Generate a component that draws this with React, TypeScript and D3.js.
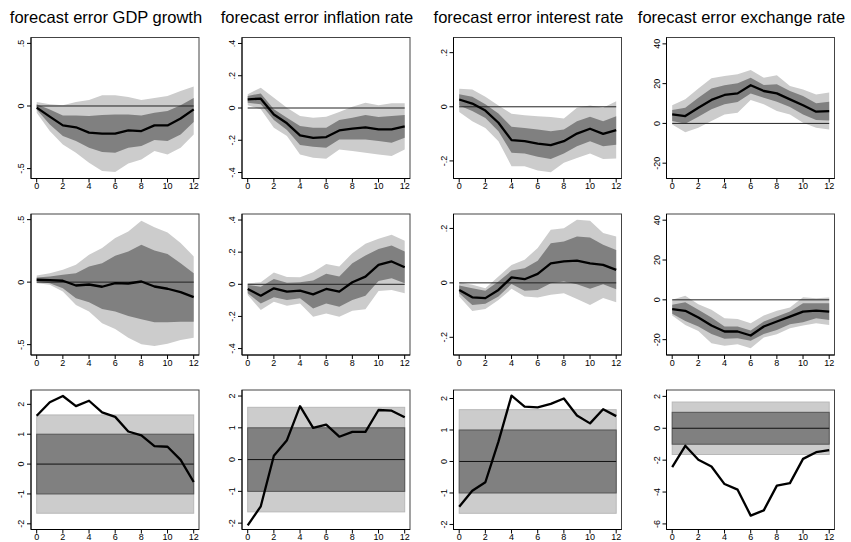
import React from "react";
import * as d3 from "d3";

// ---------- data ----------
const titles = [
  "forecast error GDP growth",
  "forecast error inflation rate",
  "forecast error interest rate",
  "forecast error exchange rate",
];
const horizons = [0, 1, 2, 3, 4, 5, 6, 7, 8, 9, 10, 11, 12];
const xTicks = [0, 2, 4, 6, 8, 10, 12];

// row 1
const r1GdpMid = [-0.013, -0.085, -0.155, -0.17, -0.213, -0.22, -0.22, -0.195, -0.2, -0.155, -0.155, -0.1, -0.027];
const r1GdpHi68 = [0.013, -0.027, -0.075, -0.075, -0.08, -0.072, -0.067, -0.067, -0.075, -0.053, -0.04, 0.005, 0.064];
const r1GdpLo68 = [-0.027, -0.147, -0.24, -0.28, -0.333, -0.368, -0.373, -0.333, -0.32, -0.272, -0.28, -0.227, -0.128];
const r1GdpHi90 = [0.032, 0.013, 0.005, 0.032, 0.048, 0.085, 0.085, 0.072, 0.048, 0.064, 0.08, 0.12, 0.155];
const r1GdpLo90 = [-0.053, -0.2, -0.307, -0.373, -0.453, -0.52, -0.528, -0.459, -0.427, -0.36, -0.387, -0.333, -0.227];

const r1InfMid = [0.054, 0.058, -0.04, -0.095, -0.17, -0.185, -0.18, -0.139, -0.128, -0.12, -0.133, -0.133, -0.114];
const r1InfHi68 = [0.075, 0.09, -0.008, -0.06, -0.112, -0.122, -0.122, -0.075, -0.06, -0.044, -0.056, -0.05, -0.044];
const r1InfLo68 = [0.033, 0.023, -0.075, -0.137, -0.23, -0.24, -0.247, -0.195, -0.195, -0.195, -0.205, -0.216, -0.184];
const r1InfHi90 = [0.085, 0.126, 0.064, 0.002, -0.05, -0.06, -0.054, -0.025, 0.008, 0.033, 0.017, 0.029, 0.029];
const r1InfLo90 = [0.017, -0.008, -0.122, -0.174, -0.288, -0.309, -0.315, -0.257, -0.267, -0.278, -0.288, -0.298, -0.257];

const r1IntMid = [0.027, 0.012, -0.014, -0.059, -0.123, -0.127, -0.136, -0.142, -0.127, -0.099, -0.081, -0.1, -0.086];
const r1IntHi68 = [0.046, 0.037, 0.009, -0.025, -0.074, -0.078, -0.084, -0.09, -0.084, -0.053, -0.037, -0.053, -0.035];
const r1IntLo68 = [0.005, -0.016, -0.041, -0.09, -0.17, -0.173, -0.185, -0.193, -0.173, -0.146, -0.127, -0.146, -0.14];
const r1IntHi90 = [0.067, 0.064, 0.037, 0.005, -0.026, -0.031, -0.035, -0.038, -0.043, -0.004, 0.005, -0.004, 0.02];
const r1IntLo90 = [-0.019, -0.053, -0.078, -0.127, -0.22, -0.22, -0.235, -0.242, -0.207, -0.189, -0.173, -0.193, -0.191];

const r1ExMid = [4.5, 3.7, 7.9, 11.8, 14.3, 15.1, 19.2, 16.3, 15.1, 12.1, 9.1, 5.9, 6.2];
const r1ExHi68 = [6.7, 7.9, 12.9, 17.5, 19.2, 20.2, 23, 19.3, 19.7, 16.3, 13.8, 10.1, 10.9];
const r1ExLo68 = [1.2, -0.2, 3.4, 7.1, 9.6, 10.8, 15.1, 12.9, 10.9, 8.2, 4.5, 1.7, 1.5];
const r1ExHi90 = [9.1, 12.1, 17.5, 22.7, 23.9, 24.7, 26.9, 23, 24.2, 18.8, 17.1, 14.6, 15.5];
const r1ExLo90 = [-0.5, -4.4, -2.2, 1.2, 4.5, 5.4, 11.8, 9.6, 6.2, 4.5, 0.3, -2.2, -3.0];

// row 2
const r2GdpMid = [0.019, 0.016, 0.011, -0.027, -0.019, -0.037, -0.008, -0.011, 0.005, -0.035, -0.053, -0.08, -0.12];
const r2GdpHi68 = [0.037, 0.045, 0.059, 0.072, 0.126, 0.152, 0.211, 0.246, 0.3, 0.254, 0.225, 0.152, 0.072];
const r2GdpLo68 = [0.005, -0.008, -0.048, -0.128, -0.16, -0.214, -0.235, -0.27, -0.297, -0.321, -0.321, -0.316, -0.316];
const r2GdpHi90 = [0.053, 0.072, 0.099, 0.139, 0.219, 0.273, 0.353, 0.406, 0.492, 0.439, 0.398, 0.313, 0.206];
const r2GdpLo90 = [-0.008, -0.021, -0.075, -0.182, -0.235, -0.329, -0.374, -0.444, -0.497, -0.511, -0.492, -0.463, -0.444];

const r2InfMid = [-0.029, -0.071, -0.025, -0.046, -0.04, -0.0625, -0.029, -0.046, 0.0125, 0.048, 0.121, 0.142, 0.106];
const r2InfHi68 = [-0.004, -0.015, 0.033, 0.01, 0.0125, 0.023, 0.065, 0.048, 0.131, 0.179, 0.219, 0.242, 0.204];
const r2InfLo68 = [-0.056, -0.119, -0.081, -0.098, -0.0875, -0.15, -0.119, -0.14, -0.098, -0.071, 0.021, 0.0375, 0.006];
const r2InfHi90 = [0.006, 0.0125, 0.073, 0.046, 0.044, 0.075, 0.127, 0.11, 0.194, 0.252, 0.283, 0.308, 0.271];
const r2InfLo90 = [-0.067, -0.16, -0.108, -0.133, -0.119, -0.202, -0.181, -0.202, -0.165, -0.156, -0.042, -0.035, -0.056];

const r2IntMid = [-0.026, -0.053, -0.056, -0.026, 0.02, 0.0135, 0.033, 0.072, 0.079, 0.082, 0.072, 0.066, 0.048];
const r2IntHi68 = [-0.01, -0.02, -0.029, 0.005, 0.045, 0.054, 0.081, 0.146, 0.152, 0.17, 0.167, 0.14, 0.121];
const r2IntLo68 = [-0.038, -0.081, -0.077, -0.05, -0.004, -0.029, -0.026, -0.001, 0.005, -0.005, -0.022, -0.005, -0.023];
const r2IntHi90 = [0.0025, -0.007, -0.02, 0.023, 0.066, 0.085, 0.128, 0.195, 0.201, 0.232, 0.228, 0.183, 0.17];
const r2IntLo90 = [-0.05, -0.103, -0.096, -0.063, -0.022, -0.05, -0.054, -0.044, -0.038, -0.059, -0.081, -0.056, -0.071];

const r2ExMid = [-4.7, -5.5, -8.9, -12.9, -15.9, -15.9, -17.9, -13.4, -10.9, -8.4, -5.9, -5.4, -5.9];
const r2ExHi68 = [-2.5, -1.2, -5.0, -8.9, -13.4, -13.4, -15.4, -10.9, -8.4, -5.9, -1.7, -1.7, -1.7];
const r2ExLo68 = [-7.0, -10.6, -13.4, -17.1, -19.6, -19.3, -20.6, -17.1, -15.1, -12.2, -11.2, -9.2, -10.1];
const r2ExHi90 = [0, 2.0, -2.2, -5.0, -9.2, -9.6, -11.7, -7.9, -5.5, -3.9, 1.3, 0.8, 1.2];
const r2ExLo90 = [-7.9, -12.6, -15.6, -21.8, -23.1, -22.3, -24.3, -18.9, -17.3, -14.3, -12.9, -11.7, -12.6];

// row 3 (standardised errors)
const r3Gdp = [1.62, 2.07, 2.28, 1.94, 2.12, 1.73, 1.58, 1.09, 0.96, 0.6, 0.58, 0.14, -0.6];
const r3Inf = [-2.07, -1.47, 0.12, 0.61, 1.68, 1.0, 1.1, 0.72, 0.87, 0.87, 1.56, 1.54, 1.33];
const r3Int = [-1.44, -0.93, -0.66, 0.63, 2.09, 1.74, 1.72, 1.83, 2.0, 1.46, 1.21, 1.66, 1.44];
const r3Ex = [-2.44, -1.1, -1.98, -2.4, -3.5, -3.85, -5.48, -5.15, -3.6, -3.44, -1.92, -1.5, -1.375];
const zInner = [-1, 1];
const zOuter = [-1.645, 1.645];

// y tick values
const yTicksGdp = [-0.5, 0, 0.5];
const yTicksInf = [-0.4, -0.2, 0, 0.2, 0.4];
const yTicksInt = [-0.2, 0, 0.2];
const yTicksEx = [-20, 0, 20, 40];
const yTicksZ = [-2, -1, 0, 1, 2];
const yTicksZEx = [-6, -4, -2, 0, 2];

// ---------- layout ----------
const W = 851;
const H = 542;
const colLeft = [31, 242, 453.5, 666.5];
const rowTop = [37.5, 214, 390];
const rowH = [141, 141, 139.5];
const PW = 168;

type BandPanel = {
  kind: "band";
  mid: number[]; lo68: number[]; hi68: number[]; lo90: number[]; hi90: number[];
  yDomain: [number, number]; yTicks: number[];
};
type ZPanel = { kind: "z"; line: number[]; yDomain: [number, number]; yTicks: number[] };
type Panel = BandPanel | ZPanel;

const panels: Panel[][] = [
  [
    { kind: "band", mid: r1GdpMid, lo68: r1GdpLo68, hi68: r1GdpHi68, lo90: r1GdpLo90, hi90: r1GdpHi90, yDomain: [-0.579, 0.547], yTicks: yTicksGdp },
    { kind: "band", mid: r1InfMid, lo68: r1InfLo68, hi68: r1InfHi68, lo90: r1InfLo90, hi90: r1InfHi90, yDomain: [-0.437, 0.437], yTicks: yTicksInf },
    { kind: "band", mid: r1IntMid, lo68: r1IntLo68, hi68: r1IntHi68, lo90: r1IntLo90, hi90: r1IntHi90, yDomain: [-0.265, 0.256], yTicks: yTicksInt },
    { kind: "band", mid: r1ExMid, lo68: r1ExLo68, hi68: r1ExHi68, lo90: r1ExLo90, hi90: r1ExHi90, yDomain: [-27.7, 43.2], yTicks: yTicksEx },
  ],
  [
    { kind: "band", mid: r2GdpMid, lo68: r2GdpLo68, hi68: r2GdpHi68, lo90: r2GdpLo90, hi90: r2GdpHi90, yDomain: [-0.583, 0.545], yTicks: yTicksGdp },
    { kind: "band", mid: r2InfMid, lo68: r2InfLo68, hi68: r2InfHi68, lo90: r2InfLo90, hi90: r2InfHi90, yDomain: [-0.44, 0.4375], yTicks: yTicksInf },
    { kind: "band", mid: r2IntMid, lo68: r2IntLo68, hi68: r2IntHi68, lo90: r2IntLo90, hi90: r2IntHi90, yDomain: [-0.265, 0.253], yTicks: yTicksInt },
    { kind: "band", mid: r2ExMid, lo68: r2ExLo68, hi68: r2ExHi68, lo90: r2ExLo90, hi90: r2ExHi90, yDomain: [-27.7, 43.1], yTicks: yTicksEx },
  ],
  [
    { kind: "z", line: r3Gdp, yDomain: [-2.19, 2.48], yTicks: yTicksZ },
    { kind: "z", line: r3Inf, yDomain: [-2.2, 2.19], yTicks: yTicksZ },
    { kind: "z", line: r3Int, yDomain: [-2.16, 2.27], yTicks: yTicksZ },
    { kind: "z", line: r3Ex, yDomain: [-6.35, 2.4], yTicks: yTicksZEx },
  ],
];

const LIGHT = "#cccccc";
const DARK = "#808080";
const FONT = "'Liberation Sans', Arial, Helvetica, sans-serif";

const fmt = (v: number) => String(v).replace(/^(-?)0\./, "$1.");

function PanelView({ p, left, top, ph, title }: { p: Panel; left: number; top: number; ph: number; title?: string }) {
  const x = d3.scaleLinear().domain([0, 12]).range([left + 5.7, left + 162.7]);
  const y = d3.scaleLinear().domain(p.yDomain).range([top + ph, top]);
  const bottom = top + ph;
  const right = left + PW;

  const areaOf = (lo: number[], hi: number[]) =>
    d3.area<number>().x((d) => x(d)).y0((d) => y(lo[d])).y1((d) => y(hi[d]))(horizons) || "";
  const lineOf = (vals: number[]) =>
    d3.line<number>().x((d) => x(d)).y((d) => y(vals[d]))(horizons) || "";

  return (
    <g>
      {title && (
        <text x={left + 75} y={23} textAnchor="middle" fontSize={16.5} fontFamily={FONT} fill="#000">
          {title}
        </text>
      )}
      <rect x={left} y={top} width={PW} height={ph} fill="#fff" stroke="#444" strokeWidth={1} />
      {p.kind === "band" ? (
        <g>
          <path d={areaOf(p.lo90, p.hi90)} fill={LIGHT} />
          <path d={areaOf(p.lo68, p.hi68)} fill={DARK} />
          <line x1={x(0)} x2={x(12)} y1={y(0)} y2={y(0)} stroke="#222" strokeWidth={1} />
          <path d={lineOf(p.mid)} fill="none" stroke="#000" strokeWidth={2.3} strokeLinejoin="round" />
        </g>
      ) : (
        <g>
          <rect x={x(0)} width={x(12) - x(0)} y={y(zOuter[1])} height={y(zOuter[0]) - y(zOuter[1])} fill={LIGHT} stroke="#b8b8b8" strokeWidth={1} />
          <rect x={x(0)} width={x(12) - x(0)} y={y(zInner[1])} height={y(zInner[0]) - y(zInner[1])} fill={DARK} stroke="#555" strokeWidth={1} />
          <line x1={x(0)} x2={x(12)} y1={y(0)} y2={y(0)} stroke="#111" strokeWidth={1} />
          <path d={lineOf(p.line)} fill="none" stroke="#000" strokeWidth={2.3} strokeLinejoin="round" />
        </g>
      )}
      {/* axes */}
      <line x1={left} x2={left} y1={top} y2={bottom} stroke="#000" strokeWidth={1} />
      <line x1={left} x2={right} y1={bottom} y2={bottom} stroke="#000" strokeWidth={1} />
      {p.yTicks.map((t) => (
        <g key={"y" + t}>
          <line x1={left - 4} x2={left} y1={y(t)} y2={y(t)} stroke="#000" strokeWidth={1} />
          <text
            transform={`translate(${left - 7},${y(t)}) rotate(-90)`}
            textAnchor="middle"
            fontSize={9}
            fontFamily={FONT}
            fill="#000"
          >
            {fmt(t)}
          </text>
        </g>
      ))}
      {xTicks.map((t) => (
        <g key={"x" + t}>
          <line x1={x(t)} x2={x(t)} y1={bottom} y2={bottom + 4} stroke="#000" strokeWidth={1} />
          <text x={x(t)} y={bottom + 10.5} textAnchor="middle" fontSize={9} fontFamily={FONT} fill="#000">
            {fmt(t)}
          </text>
        </g>
      ))}
    </g>
  );
}

export default function App() {
  return (
    <svg
      width={W}
      height={H}
      viewBox={`0 0 ${W} ${H}`}
      style={{ position: "absolute", left: 0, top: 0, background: "#fff" }}
    >
      <rect x={0} y={0} width={W} height={H} fill="#fff" />
      {panels.map((row, ri) =>
        row.map((p, ci) => (
          <PanelView
            key={ri + "-" + ci}
            p={p}
            left={colLeft[ci]}
            top={rowTop[ri]}
            ph={rowH[ri]}
            title={ri === 0 ? titles[ci] : undefined}
          />
        ))
      )}
    </svg>
  );
}
